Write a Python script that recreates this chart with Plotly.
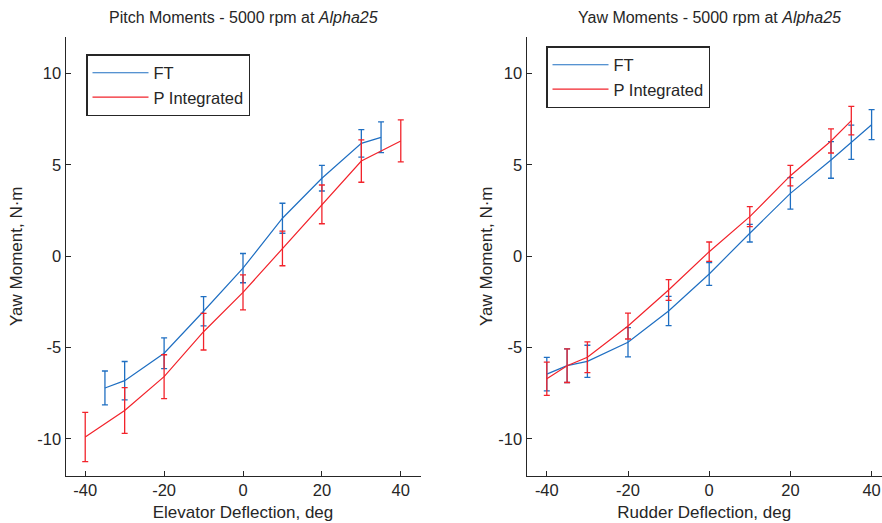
import plotly.graph_objects as go

# ---- data ----
pitch_x_ft = [-35, -30, -20, -10, 0, 10, 20, 30, 35]
pitch_ft = [-7.21, -6.81, -5.31, -3.01, -0.65, 2.08, 4.27, 6.18, 6.51]
pitch_ft_err = [0.93, 1.05, 0.84, 0.80, 0.80, 0.82, 0.70, 0.75, 0.84]

pitch_x_p = [-40, -30, -20, -10, 0, 10, 20, 30, 40]
pitch_p = [-9.89, -8.44, -6.59, -4.13, -1.98, 0.43, 2.84, 5.21, 6.31]
pitch_p_err = [1.35, 1.25, 1.20, 1.00, 0.96, 0.95, 1.06, 1.16, 1.15]

yaw_x_ft = [-40, -35, -30, -20, -10, 0, 10, 20, 30, 35, 40]
yaw_ft = [-6.45, -5.99, -5.75, -4.71, -3.00, -0.97, 1.26, 3.44, 5.27, 6.24, 7.20]
yaw_ft_err = [0.92, 0.92, 0.88, 0.80, 0.80, 0.62, 0.48, 0.86, 1.00, 0.94, 0.82]

yaw_x_p = [-40, -35, -30, -20, -10, 0, 10, 20, 30, 35]
yaw_p = [-6.70, -5.99, -5.53, -3.82, -1.85, 0.25, 2.17, 4.41, 6.31, 7.42]
yaw_p_err = [0.91, 0.92, 0.84, 0.71, 0.57, 0.53, 0.55, 0.56, 0.66, 0.78]

x_ticks = [-40, -20, 0, 20, 40]
x_tick_text = ["-40", "-20", "0", "20", "40"]
y_ticks = [-10, -5, 0, 5, 10]
y_tick_text = ["-10", "-5", "0", "5", "10"]

series_names = ["FT", "P Integrated"]
titles = ["Pitch Moments - 5000 rpm at <i>Alpha25</i>",
          "Yaw Moments - 5000 rpm at <i>Alpha25</i>"]
x_titles = ["Elevator Deflection, deg", "Rudder Deflection, deg"]
y_title = "Yaw Moment, N\u00b7m"

BLUE = "#1f6fc2"
RED = "#f2232b"
AX = "#262626"
FONT = "Liberation Sans, Arial, sans-serif"

W, H = 882, 523

fig = go.Figure()


def add(x, y, e, name, color, xa, ya, legend):
    fig.add_trace(go.Scatter(
        x=x, y=y, mode="lines", name=name,
        line=dict(color=color, width=1.2),
        error_y=dict(type="data", array=e, visible=True, color=color,
                     thickness=1.3, width=3),
        xaxis=xa, yaxis=ya, legend=legend,
    ))


add(pitch_x_ft, pitch_ft, pitch_ft_err, series_names[0], BLUE, "x", "y", "legend")
add(pitch_x_p, pitch_p, pitch_p_err, series_names[1], RED, "x", "y", "legend")
add(yaw_x_ft, yaw_ft, yaw_ft_err, series_names[0], BLUE, "x2", "y2", "legend2")
add(yaw_x_p, yaw_p, yaw_p_err, series_names[1], RED, "x2", "y2", "legend2")

# pixel geometry
left_dom = [65.5 / W, 420.5 / W]
right_dom = [526.5 / W, 1.0]
y_dom = [(H - 475.5) / H, (H - 37) / H]
px_per_deg_right = 4.06
right_max = (W - 526.5) / px_per_deg_right - 45

axis_common = dict(
    showline=True, linecolor=AX, linewidth=1, mirror=False,
    showgrid=False, zeroline=False, ticks="inside", ticklen=5,
    tickcolor=AX, tickwidth=1, tickfont=dict(family=FONT, size=16.5, color=AX),
    automargin=False,
)
TF = dict(family=FONT, size=17, color=AX)

legend_common = dict(
    xanchor="left", yanchor="top", traceorder="normal",
    bgcolor="white", bordercolor=AX, borderwidth=1.5,
    font=dict(family=FONT, size=16.5, color=AX),
    itemwidth=56,
)

fig.update_layout(
    width=W, height=H,
    margin=dict(l=0, r=0, t=0, b=0),
    paper_bgcolor="white", plot_bgcolor="white",
    font=dict(family=FONT, color=AX),
    xaxis=dict(domain=left_dom, range=[-45, 45], tickvals=x_ticks, ticktext=x_tick_text,
               anchor="y", title=dict(text=x_titles[0], font=TF, standoff=7),
               **axis_common),
    yaxis=dict(domain=y_dom, range=[-12, 12], tickvals=y_ticks, ticktext=y_tick_text,
               anchor="x", title=dict(text=y_title, font=TF, standoff=10),
               **axis_common),
    xaxis2=dict(domain=right_dom, range=[-45, right_max], tickvals=x_ticks,
                ticktext=x_tick_text, anchor="y2",
                title=dict(text=x_titles[1], font=TF, standoff=7),
                **axis_common),
    yaxis2=dict(domain=y_dom, range=[-12, 12], tickvals=y_ticks, ticktext=y_tick_text,
                anchor="x2", title=dict(text=y_title, font=TF, standoff=1),
                **axis_common),
    legend=dict(x=86 / W, y=(H - 54) / H, **legend_common),
    legend2=dict(x=546 / W, y=(H - 46) / H, **legend_common),
    showlegend=True,
)

centers = [(left_dom[0] + left_dom[1]) / 2,
           right_dom[0] + (45 * px_per_deg_right) / W]
for t, cx in zip(titles, centers):
    fig.add_annotation(text=t, x=cx, y=(H - 17) / H, xref="paper", yref="paper",
                       xanchor="center", yanchor="middle", showarrow=False,
                       font=dict(family=FONT, size=16, color=AX))

fig.write_html("out.html")
